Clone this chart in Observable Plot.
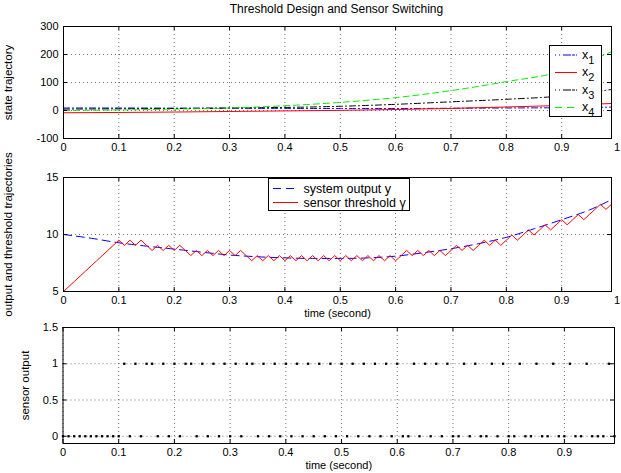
<!DOCTYPE html>
<html><head><meta charset="utf-8">
<script src="https://cdn.jsdelivr.net/npm/d3@7"></script>
<script src="https://cdn.jsdelivr.net/npm/@observablehq/plot@0.6"></script>
<style>
body{margin:0;background:#fff;}
#c{position:relative;width:621px;height:473px;font-family:"Liberation Sans",Arial,sans-serif;overflow:hidden;}
.p{position:absolute;left:0;}
.t{position:absolute;white-space:nowrap;color:#000;}
</style></head><body><div id="c"></div>
<script>
// ---------- data ----------
const xTickVals = [0,0.1,0.2,0.3,0.4,0.5,0.6,0.7,0.8,0.9,1];
const xTickValsBottom = [0,0.1,0.2,0.3,0.4,0.5,0.6,0.7,0.8,0.9];

// panel 1: state trajectories
const tState = [0,0.1,0.2,0.3,0.4,0.5,0.6,0.7,0.8,0.9,0.99];
const x1 = [9, 9, 8.5, 8, 7.5, 7, 7, 8, 9, 10, 12];
const x2 = [-8, -7, -5.5, -3.5, -1.5, 0.5, 3.5, 7.5, 12.5, 18, 25];
const x3 = [5, 6, 7, 9, 11, 15, 22, 31, 40, 52, 75];
const x4 = [0, 2, 5, 9, 17, 29, 46, 71, 103, 140, 210];
const yTicks1 = [-100, 0, 100, 200, 300];

// panel 2: system output and threshold
const tOut = [0,0.05,0.1,0.15,0.2,0.25,0.3,0.35,0.4,0.45,0.5,0.55,0.6,0.65,0.7,0.75,0.8,0.85,0.9,0.95,0.99];
const yOut = [10, 9.67, 9.27, 8.98, 8.72, 8.45, 8.2, 8.05, 7.95, 7.9, 7.9, 7.95, 8.1, 8.4, 8.75, 9.2, 9.75, 10.5, 11.3, 12.15, 13.05];
const gamma = [5,5.45,5.9,6.35,6.8,7.25,7.7,8.15,8.6,9.05,9.5,
  9.05,9.5,9.05,9.5,9.05,8.6,9.05,8.6,9.05,8.6,
  9.05,8.6,8.15,8.6,8.15,8.6,8.15,8.6,8.15,8.6,
  8.15,8.6,8.15,7.7,8.15,7.7,8.15,7.7,8.15,7.7,
  8.15,7.7,8.15,7.7,8.15,7.7,8.15,7.7,8.15,7.7,
  8.15,7.7,8.15,7.7,8.15,7.7,8.15,7.7,8.15,7.7,
  8.15,8.6,8.15,8.6,8.15,8.6,8.15,8.6,8.15,8.6,
  9.05,8.6,9.05,8.6,9.05,9.5,9.05,9.5,9.05,9.5,
  9.95,9.5,9.95,10.4,9.95,10.4,10.85,10.4,10.85,11.3,
  10.85,11.3,11.75,11.3,11.75,12.2,12.65,12.2,12.65];
const yTicks2 = [5, 10, 15];

// panel 3: sensor output (sampled every 0.01 s)
const sensor = [0,0,0,0,0,0,0,0,0,0,0,
  1,0,1,0,1,1,0,1,0,1,
  0,1,1,0,1,0,1,0,1,0,
  1,0,1,1,0,1,0,1,0,1,
  0,1,0,1,0,1,0,1,0,1,
  0,1,0,1,0,1,0,1,0,1,
  0,0,1,0,1,0,1,0,1,0,
  0,1,0,1,0,0,1,0,1,0,
  0,1,0,0,1,0,0,1,0,0,
  1,0,0,1,0,0,0,1,0];
const yTicks3 = [0, 0.5, 1, 1.5];
const sampleStep = 0.01;

// ---------- helpers ----------
const FONT = "Liberation Sans, Arial, Helvetica, sans-serif";
const c = document.getElementById("c");

function panel(o) {
  const fh = o.height - o.mt - o.mb, fw = 621 - o.ml - o.mr;
  const grid = {stroke: "#000", strokeOpacity: 0.55, strokeDasharray: "1,3", strokeWidth: 1};
  const inGrid = o.xgrid;
  const marks = [
    Plot.gridX(inGrid, grid),
    Plot.gridY(o.yticks, grid),
    ...o.marks,
    Plot.frame({stroke: "#000", strokeWidth: 1}),
    Plot.ruleX(inGrid, {x: d => d, insetTop: fh - 4, stroke: "#000"}),
    Plot.ruleX(inGrid, {x: d => d, insetBottom: fh - 4, stroke: "#000"}),
    Plot.ruleY(o.yticks, {y: d => d, insetRight: fw - 4, stroke: "#000"}),
    Plot.ruleY(o.yticks, {y: d => d, insetLeft: fw - 4, stroke: "#000"}),
    Plot.axisX(o.xticks, {tickSize: 0, tickPadding: 5, tickFormat: d => String(d), label: null, fontSize: 11}),
    Plot.axisY(o.yticks, {tickSize: 0, tickPadding: 5, tickFormat: d => String(d), label: null, fontSize: 11}),
    Plot.text([o.ylabel], {text: d => d, frameAnchor: "left", dx: -o.ylabelOffset, rotate: -90, fontSize: 11.5, textAnchor: "middle", lineAnchor: "middle"})
  ];
  if (o.xlabel) marks.push(Plot.text([o.xlabel], {text: d => d, frameAnchor: "bottom", dy: o.xlabelDy, fontSize: 11, textAnchor: "middle", lineAnchor: "middle"}));
  const svg = Plot.plot({
    width: 621, height: o.height,
    marginTop: o.mt, marginBottom: o.mb, marginLeft: o.ml, marginRight: o.mr,
    style: {fontFamily: FONT, fontSize: "11px", background: "transparent", overflow: "visible", color: "#000"},
    x: {domain: [0, 0.99]},
    y: {domain: o.ydomain},
    marks
  });
  const d = document.createElement("div");
  d.className = "p"; d.style.top = o.top + "px";
  d.appendChild(svg);
  c.appendChild(d);
}

// ---------- panel 1 ----------
const states = [];
[x1, x2, x3, x4].forEach((arr, k) => arr.forEach((v, i) => states.push({t: tState[i], v, s: k})));
const sty = [
  {stroke: "#0000ff", strokeDasharray: "6,3,1,3"},
  {stroke: "#ff0000"},
  {stroke: "#000000", strokeDasharray: "6,3,1,3"},
  {stroke: "#00ee00", strokeDasharray: "6,4"}
];
panel({
  top: 0, height: 160, mt: 26, mb: 22, ml: 63, mr: 10,
  ydomain: [-100, 300], yticks: yTicks1, xticks: xTickVals, xgrid: xTickVals.slice(0, 10),
  ylabel: "state trajectory", ylabelOffset: 55,
  marks: sty.map((s, k) => Plot.line(states.filter(d => d.s === k), {x: "t", y: "v", curve: "monotone-x", strokeWidth: 1, ...s}))
});

// ---------- panel 2 ----------
const outData = tOut.map((t, i) => ({t, v: yOut[i]}));
const gamData = gamma.map((v, i) => ({t: i * sampleStep, v}));
panel({
  top: 160, height: 160, mt: 17, mb: 29, ml: 63, mr: 10,
  ydomain: [5, 15], yticks: yTicks2, xticks: xTickVals, xgrid: xTickVals.slice(0, 10),
  ylabel: "output and threshold trajectories", ylabelOffset: 55,
  xlabel: "time (second)", xlabelDy: 22,
  marks: [
    Plot.line(outData, {x: "t", y: "v", stroke: "#0000ff", strokeWidth: 1, strokeDasharray: "8,5", curve: "monotone-x"}),
    Plot.line(gamData, {x: "t", y: "v", stroke: "#ff0000", strokeWidth: 1})
  ]
});

// ---------- panel 3 ----------
const senData = sensor.map((v, i) => ({t: i * sampleStep, v}));
panel({
  top: 320, height: 153, mt: 7, mb: 30, ml: 62.5, mr: 7,
  ydomain: [-0.1, 1.5], yticks: yTicks3, xticks: xTickValsBottom, xgrid: xTickValsBottom,
  ylabel: "sensor output", ylabelOffset: 38,
  xlabel: "time (second)", xlabelDy: 22,
  marks: [
    Plot.dot(senData, {x: "t", y: "v", symbol: "square", r: 1.3, fill: "#000", stroke: "none"})
  ]
});

// ---------- title ----------
const title = document.createElement("div");
title.className = "t";
title.style.cssText += "left:0;width:621px;top:2px;text-align:center;font-size:12px;padding-left:52px;box-sizing:border-box;";
title.textContent = "Threshold Design and Sensor Switching";
c.appendChild(title);

// ---------- legends ----------
const ov = d3.select(c).append("svg").attr("width", 621).attr("height", 473)
  .style("position", "absolute").style("left", 0).style("top", 0).style("font-family", FONT);
// legend 1
const L1 = ov.append("g");
L1.append("rect").attr("x", 549.5).attr("y", 45.5).attr("width", 52).attr("height", 71).attr("fill", "#fff").attr("stroke", "#000");
const rows1 = [55, 72.5, 90, 107.5];
const names1 = ["1", "2", "3", "4"];
rows1.forEach((y, k) => {
  const s = sty[k];
  L1.append("line").attr("x1", 555).attr("x2", 577).attr("y1", y).attr("y2", y)
    .attr("stroke", s.stroke).attr("stroke-dasharray", s.strokeDasharray ? (k === 3 ? "7,5" : "1,3,1,3,8") : null);
  const tx = L1.append("text").attr("x", 582).attr("y", y + 3.5).attr("font-size", 12.5);
  tx.append("tspan").text("x");
  tx.append("tspan").attr("dy", 5).attr("font-size", 11).text(names1[k]);
});
// legend 2
const L2 = ov.append("g");
L2.append("rect").attr("x", 268.5).attr("y", 178.5).attr("width", 141).attr("height", 32).attr("fill", "#fff").attr("stroke", "#000");
L2.append("line").attr("x1", 273).attr("x2", 298).attr("y1", 188.5).attr("y2", 188.5).attr("stroke", "#0000ff").attr("stroke-dasharray", "8,5");
L2.append("line").attr("x1", 273).attr("x2", 298).attr("y1", 202.5).attr("y2", 202.5).attr("stroke", "#ff0000");
L2.append("text").attr("x", 303.5).attr("y", 192.5).attr("font-size", 12.5).text("system output y");
L2.append("text").attr("x", 303.5).attr("y", 206.5).attr("font-size", 12.5).text("sensor threshold γ");
</script>
</body></html>
